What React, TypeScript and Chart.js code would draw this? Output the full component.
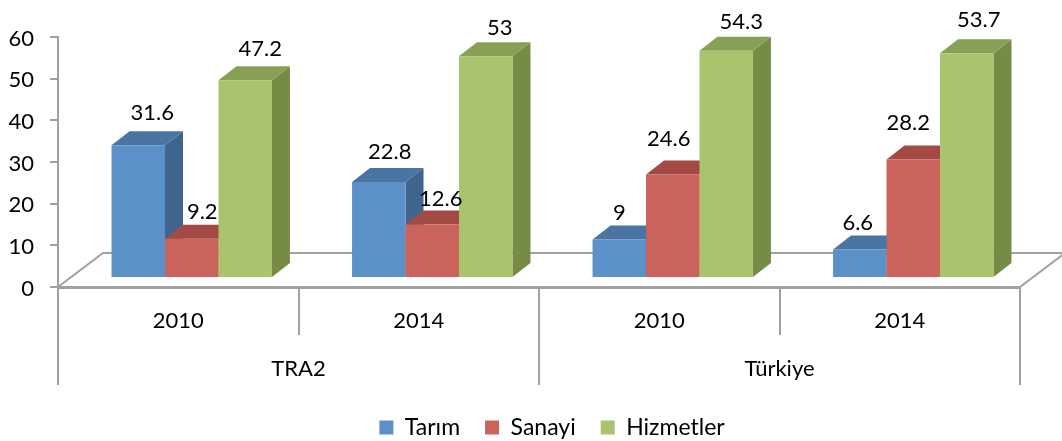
import React, { useEffect, useRef } from "react";
import { Chart, registerables } from "chart.js";

Chart.register(...registerables);

const years = ["2010", "2014", "2010", "2014"];
const regions = ["TRA2", "Türkiye"];
const tarim = [31.6, 22.8, 9, 6.6];
const sanayi = [9.2, 12.6, 24.6, 28.2];
const hizmetler = [47.2, 53, 54.3, 53.7];
const yMin = 0;
const yMax = 60;

const tarimLabelNudge = [[14, -34], [11, -32], [0, -28], [-2, -28]];
const sanayiLabelNudge = [[10.5, -28], [8.5, -27], [-4, -37], [-5, -38]];
const hizmetlerLabelNudge = [[15, -33], [14, -30], [15, -30], [12, -35]];

const FONT = "Lato, Carlito, sans-serif";
const FONT_SIZE = 22;
const AXIS = "#A0A0A0";
const SHIFT_X = 13.5;
const DEPTH_X = 18;
const DEPTH_Y = 14;
const FLOOR_X = 45;
const FLOOR_Y = 34;
const LEGEND_SHIFT = 42;
const TEXT_DROP = 1.5;

const shades = [
  { top: "#4A74A2", side: "#3F658F" },
  { top: "#A34A45", side: "#94433F" },
  { top: "#87A055", side: "#758C46" },
];
const nudges = [tarimLabelNudge, sanayiLabelNudge, hizmetlerLabelNudge];

const bars3d = {
  id: "bars3d",
  afterInit(chart: any) {
    const legend = chart.legend;
    const fit = legend.fit;
    legend.fit = function () {
      fit.call(this);
      this.height = 50;
    };
    const draw = legend.draw;
    legend.draw = function () {
      const c = this.ctx;
      c.save();
      c.translate(LEGEND_SHIFT, 0);
      draw.call(this);
      c.restore();
    };
  },
  beforeDatasetsDraw(chart: any) {
    const { ctx, chartArea: a } = chart;
    ctx.save();
    ctx.strokeStyle = AXIS;
    ctx.lineWidth = 2;
    ctx.beginPath();
    ctx.moveTo(a.left, a.bottom);
    ctx.lineTo(a.left + FLOOR_X, a.bottom - FLOOR_Y);
    ctx.lineTo(a.right + FLOOR_X, a.bottom - FLOOR_Y);
    ctx.lineTo(a.right, a.bottom);
    ctx.stroke();
    ctx.restore();
  },
  beforeDatasetDraw() {
    return false;
  },
  afterDatasetsDraw(chart: any) {
    const { ctx } = chart;
    chart.data.datasets.forEach((_: any, i: number) => {
      const meta = chart.getDatasetMeta(i);
      ctx.save();
      ctx.translate(SHIFT_X, 0);
      meta.data.forEach((el: any) => {
        const l = el.x - el.width / 2;
        const r = el.x + el.width / 2;
        ctx.fillStyle = shades[i].side;
        ctx.beginPath();
        ctx.moveTo(r, el.base);
        ctx.lineTo(r + DEPTH_X, el.base - DEPTH_Y);
        ctx.lineTo(r + DEPTH_X, el.y - DEPTH_Y);
        ctx.lineTo(r, el.y);
        ctx.closePath();
        ctx.fill();
        ctx.fillStyle = shades[i].top;
        ctx.beginPath();
        ctx.moveTo(l, el.y);
        ctx.lineTo(l + DEPTH_X, el.y - DEPTH_Y);
        ctx.lineTo(r + DEPTH_X, el.y - DEPTH_Y);
        ctx.lineTo(r, el.y);
        ctx.closePath();
        ctx.fill();
      });
      meta.controller.draw();
      ctx.restore();
    });
    ctx.save();
    ctx.fillStyle = "#000";
    ctx.font = `${FONT_SIZE}px ${FONT}`;
    ctx.textAlign = "center";
    ctx.textBaseline = "middle";
    chart.data.datasets.forEach((ds: any, i: number) => {
      chart.getDatasetMeta(i).data.forEach((el: any, j: number) => {
        const [dx, dy] = nudges[i][j];
        ctx.fillText(String(ds.data[j]), el.x + SHIFT_X + dx, el.y + dy + TEXT_DROP);
      });
    });
    ctx.restore();
  },
};

export default function App() {
  const ref = useRef<HTMLCanvasElement>(null);
  useEffect(() => {
    const chart = new Chart(ref.current as HTMLCanvasElement, {
      type: "bar",
      data: {
        labels: years,
        datasets: [
          { label: "Tarım", data: tarim, backgroundColor: "#5B90C9", yAxisID: "yBars" },
          { label: "Sanayi", data: sanayi, backgroundColor: "#C9635B", yAxisID: "yBars" },
          { label: "Hizmetler", data: hizmetler, backgroundColor: "#AAC46E", yAxisID: "yBars" },
        ],
      },
      plugins: [bars3d],
      options: {
        animation: false,
        responsive: false,
        events: [],
        layout: { padding: { top: 37, right: 42, left: 0, bottom: 0 } },
        datasets: { bar: { categoryPercentage: 0.667, barPercentage: 1 } },
        font: { family: FONT, size: FONT_SIZE },
        scales: {
          y: {
            min: yMin,
            max: yMax,
            afterFit(s: any) {
              s.width = 58;
              if (!s.__dropped) {
                s.__dropped = true;
                const drawLabels = s.drawLabels;
                s.drawLabels = function (area: any) {
                  this.ctx.save();
                  this.ctx.translate(0, TEXT_DROP);
                  drawLabels.call(this, area);
                  this.ctx.restore();
                };
              }
            },
            ticks: { stepSize: 10, color: "#000", padding: 16, font: { family: FONT, size: FONT_SIZE } },
            grid: { drawOnChartArea: false, color: AXIS, lineWidth: 2, tickLength: 8 },
            border: { color: AXIS, width: 2 },
          },
          yBars: { display: false, min: yMin - 2.4, max: yMax - 2.4 },
          x: {
            offset: true,
            afterFit(s: any) { s.height = 46; },
            ticks: { color: "#000", padding: -27, maxRotation: 0, font: { family: FONT, size: FONT_SIZE } },
            grid: { drawOnChartArea: false, offset: true, color: AXIS, lineWidth: 2, tickLength: 48 },
            border: { color: AXIS, width: 3 },
          },
          x2: {
            type: "category",
            labels: regions,
            offset: true,
            position: "bottom",
            afterFit(s: any) { s.height = 58; },
            ticks: { color: "#000", padding: -29, maxRotation: 0, font: { family: FONT, size: FONT_SIZE } },
            grid: { drawOnChartArea: false, offset: true, color: AXIS, lineWidth: 2, tickLength: 52 },
            border: { display: false },
          },
        },
        plugins: {
          title: { display: false },
          tooltip: { enabled: false },
          legend: {
            position: "bottom",
            labels: {
              boxWidth: 14,
              boxHeight: 14,
              padding: 25,
              color: "#000",
              font: { family: FONT, size: 23 },
            },
          },
        },
      },
    } as any);
    return () => chart.destroy();
  }, []);
  return (
    <div style={{ position: "absolute", left: 0, top: 0, width: 1062, height: 441 }}>
      <canvas ref={ref} width={1062} height={441} style={{ display: "block" }} />
    </div>
  );
}
